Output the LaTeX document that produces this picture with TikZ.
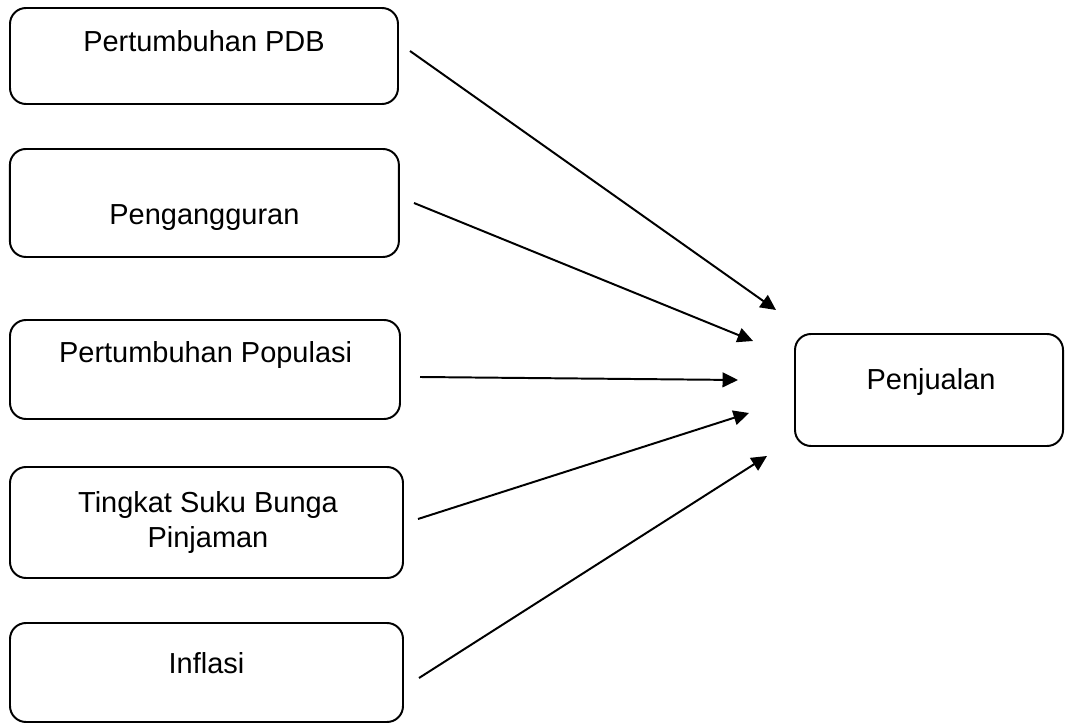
\documentclass[tikz,border=0pt]{standalone}
\usepackage{fontspec}
\setmainfont{Liberation Sans}
\usetikzlibrary{arrows.meta}

\begin{document}
\begin{tikzpicture}[
		box_style/.style={rectangle,rounded corners=0.4cm,draw=black,line width=1.4pt,fill=white,inner sep=0pt},
		text_style/.style={font=\fontsize{20.6}{25}\selectfont,anchor=base,inner sep=0pt,align=center},
		edge_style/.style={draw=black,line width=1.4pt,-{Triangle[length=11pt,width=10.5pt]}}]
		\useasboundingbox (0,0) rectangle (26.625,18.1);
		% boxes
		\node[box_style,minimum width=9.7cm,minimum height=2.4cm] (pdb) at (5.1,16.7) {};
		\node[box_style,minimum width=9.725cm,minimum height=2.7cm] (nganggur) at (5.11,13.025) {};
		\node[box_style,minimum width=9.75cm,minimum height=2.475cm] (populasi) at (5.125,8.8625) {};
		\node[box_style,minimum width=9.825cm,minimum height=2.775cm] (bunga) at (5.1625,5.0375) {};
		\node[box_style,minimum width=9.825cm,minimum height=2.475cm] (inflasi) at (5.1625,1.2875) {};
		\node[box_style,minimum width=6.7cm,minimum height=2.8cm] (jual) at (23.225,8.35) {};
		% texts
		\node[text_style] (t_pdb) at (5.1,16.8) {Pertumbuhan PDB};
		\node[text_style] (t_nganggur) at (5.11,12.475) {Pengangguran};
		\node[text_style] (t_populasi) at (5.14,9.025) {Pertumbuhan Populasi};
		\node[text_style] (t_bunga) at (5.2,4.4) {Tingkat Suku Bunga\\Pinjaman};
		\node[text_style] (t_inflasi) at (5.1625,1.275) {Inflasi};
		\node[text_style] (t_jual) at (23.275,8.35) {Penjualan};
		% arrow ends
		\coordinate (s1) at (10.25,16.825);
		\coordinate (s2) at (10.35,13.025);
		\coordinate (s3) at (10.5,8.675);
		\coordinate (s4) at (10.45,5.125);
		\coordinate (s5) at (10.475,1.15);
		\coordinate (e1) at (19.4,10.35);
		\coordinate (e2) at (18.825,9.575);
		\coordinate (e3) at (18.45,8.6);
		\coordinate (e4) at (18.725,7.775);
		\coordinate (e5) at (19.175,6.7);
		\draw[edge_style] (s1) -- (e1);
		\draw[edge_style] (s2) -- (e2);
		\draw[edge_style] (s3) -- (e3);
		\draw[edge_style] (s4) -- (e4);
		\draw[edge_style] (s5) -- (e5);
\end{tikzpicture}
\end{document}
